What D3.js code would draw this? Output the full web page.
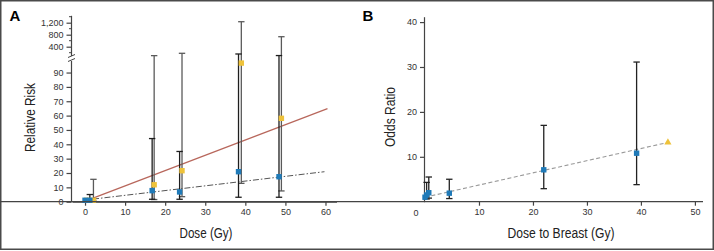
<!DOCTYPE html>
<html>
<head>
<meta charset="utf-8">
<script src="https://cdn.jsdelivr.net/npm/d3@7"></script>
<style>
  body { margin: 0; background: #fff; }
  svg { display: block; font-family: "Liberation Sans", Arial, sans-serif; }
  .tick text { font-size: 9px; fill: #333; }
  .axis path, .axis line { stroke: #444; stroke-width: 1.2; }
  .title { font-family: "Liberation Sans Narrow", "Liberation Sans", sans-serif; font-size: 15.5px; fill: #222; }
</style>
</head>
<body>
<div id="chart"></div>
<script>
// Panel A - relative risk by dose, two series
var doseBlueA = [0, 1.2, 16.75, 23.6, 38.3, 48.4];
var rrBlueA = [1, 1, 7.7, 6.8, 20.9, 17.4];
var loBlueA = [null, 0.6, 1.7, 1.7, 3.1, 3.1];
var hiBlueA = [null, 5, 44, 35, 157, 105];

var doseYellowA = [0.4, 2.1, 17.25, 24.2, 39, 49];
var rrYellowA = [1, 1, 11.8, 21.6, 96.6, 58.1];
var loYellowA = [null, 0.5, 1.5, 3.5, 12.8, 7.5];
var hiYellowA = [null, 15.6, 102, 180, 1233, 733];

// fitted lines (end points)
var fitRedDose = [2, 60.5];
var fitRedRR = [2.5, 64.8];
var fitBlueDose = [2, 59.75];
var fitBlueRR = [1.8, 20.9];

var xTicksA = [0, 10, 20, 30, 40, 50, 60];
var yTicksLowA = [0, 10, 20, 30, 40, 50, 60, 70, 80, 90];
var yTicksHighA = [400, 800, 1200];
var yMinorHighA = [200, 600, 1000, 1400];

// Panel B - odds ratio by dose to breast
var doseB = [0, 0.3, 0.7, 4.5, 22, 39.2];
var orB = [1, 1.5, 2.0, 1.9, 7.1, 10.8];
var loB = [null, 0.6, 0.8, 0.7, 2.9, 3.8];
var hiB = [null, 4.3, 5.5, 5.0, 17.0, 31.1];
var triDoseB = 45;
var triOrB = 13.2;
var fitDoseB = [0, 45];
var fitOrB = [1, 13.2];

var xTicksB = [10, 20, 30, 40, 50];
var yTicksB = [10, 20, 30, 40];

var blue = "#1f7ab8";
var yellow = "#eec23a";

var svg = d3.select("#chart").append("svg")
	.attr("width", 714)
	.attr("height", 251);

svg.append("rect")
	.attr("x", 0.75).attr("y", 0.75)
	.attr("width", 712.5).attr("height", 248.5)
	.attr("fill", "none")
	.attr("stroke", "#4a4a4a")
	.attr("stroke-width", 1.5);

// ---------- Panel A ----------
var xA = d3.scaleLinear().domain([-3.25, 62.75]).range([72, 336.5]);
var yLow = d3.scaleLinear().domain([0, 100]).range([201.7, 58.2]);
var yHigh = d3.scaleLinear().domain([100, 1430]).range([55.7, 15.8]);
function yA(v) {
	return v <= 100 ? yLow(v) : yHigh(v);
}

var gA = svg.append("g");

gA.append("g")
	.attr("class", "axis")
	.attr("transform", "translate(0,201.7)")
	.call(d3.axisBottom(xA).tickValues(xTicksA).tickSize(4).tickPadding(3).tickSizeOuter(0));

gA.append("g")
	.attr("class", "axis")
	.attr("transform", "translate(71.5,0)")
	.call(d3.axisLeft(yLow).tickValues(yTicksLowA).tickSize(5).tickPadding(3).tickSizeOuter(0))
	.select(".domain").attr("d", "M0,61V201.7");

var upperAxis = gA.append("g")
	.attr("class", "axis")
	.attr("transform", "translate(71.5,0)")
	.call(d3.axisLeft(yHigh).tickValues(yTicksHighA).tickFormat(d3.format(",")).tickSize(5).tickPadding(3).tickSizeOuter(0));
upperAxis.select(".domain").attr("d", "M0,15.8V56");

gA.selectAll(".minor")
	.data(yMinorHighA)
	.enter().append("line")
	.attr("x1", 69).attr("x2", 71.5)
	.attr("y1", function(d){ return yHigh(d); })
	.attr("y2", function(d){ return yHigh(d); })
	.attr("stroke", "#444");

// axis break marks
[56, 60].forEach(function(yy){
	gA.append("line")
		.attr("x1", 68).attr("y1", yy + 1.5)
		.attr("x2", 75).attr("y2", yy - 1.5)
		.attr("stroke", "#444")
		.attr("stroke-width", 1);
});

var lineA = d3.line()
	.x(function(d){ return xA(d[0]); })
	.y(function(d){ return yA(d[1]); });

gA.append("path")
	.datum(d3.zip(fitRedDose, fitRedRR))
	.attr("d", lineA)
	.attr("fill", "none")
	.attr("stroke", "#b8675c")
	.attr("stroke-width", 1.3);

gA.append("path")
	.datum(d3.zip(fitBlueDose, fitBlueRR))
	.attr("d", lineA)
	.attr("fill", "none")
	.attr("stroke", "#555")
	.attr("stroke-width", 1)
	.attr("stroke-dasharray", "6,2,1.5,2");

function errorBars(g, xs, los, his, xScale, yFn, color) {
	xs.forEach(function(d, i){
		if (los[i] == null) return;
		var x = xScale(d);
		var y1 = yFn(los[i]), y2 = yFn(his[i]);
		g.append("line").attr("x1", x).attr("x2", x).attr("y1", y1).attr("y2", y2)
			.attr("stroke", color).attr("stroke-width", 1.3);
		[y1, y2].forEach(function(yy){
			g.append("line").attr("x1", x - 3.2).attr("x2", x + 3.2).attr("y1", yy).attr("y2", yy)
				.attr("stroke", color).attr("stroke-width", 1.3);
		});
	});
}

errorBars(gA, doseYellowA, loYellowA, hiYellowA, xA, yA, "#5a5a5a");
errorBars(gA, doseBlueA, loBlueA, hiBlueA, xA, yA, "#1e1e1e");

function squares(g, xs, ys, xScale, yFn, color) {
	g.selectAll(null)
		.data(d3.zip(xs, ys))
		.enter().append("rect")
		.attr("x", function(d){ return xScale(d[0]) - 2.7; })
		.attr("y", function(d){ return yFn(d[1]) - 2.7; })
		.attr("width", 5.4)
		.attr("height", 5.4)
		.attr("fill", color);
}

squares(gA, doseYellowA, rrYellowA, xA, yA, yellow);
squares(gA, doseBlueA, rrBlueA, xA, yA, blue);

gA.append("text").attr("class", "title")
	.attr("x", 206).attr("y", 238)
	.attr("text-anchor", "middle")
	.attr("textLength", 53).attr("lengthAdjust", "spacingAndGlyphs")
	.text("Dose (Gy)");

gA.append("text").attr("class", "title")
	.attr("transform", "translate(35,117.5) rotate(-90)")
	.attr("text-anchor", "middle")
	.attr("textLength", 69).attr("lengthAdjust", "spacingAndGlyphs")
	.text("Relative Risk");

svg.append("text")
	.attr("x", 9.5).attr("y", 20.5)
	.attr("font-size", 15).attr("font-weight", "bold")
	.text("A");

// ---------- Panel B ----------
var xB = d3.scaleLinear().domain([0, 51.5]).range([425, 703]);
var yB = d3.scaleLinear().domain([0, 41.2]).range([201.7, 16.7]);

var gB = svg.append("g");

gB.append("g")
	.attr("class", "axis")
	.attr("transform", "translate(0,201.7)")
	.call(d3.axisBottom(xB).tickValues(xTicksB).tickSize(4).tickPadding(3).tickSizeOuter(0))
	.select(".domain").attr("d", "M-1,0H703");

gB.append("g")
	.attr("class", "axis")
	.attr("transform", "translate(424,0)")
	.call(d3.axisLeft(yB).tickValues(yTicksB).tickSize(4).tickPadding(3).tickSizeOuter(0));

// shared origin label
gB.append("text")
	.attr("x", xB(0) - 9).attr("y", 215.5)
	.attr("text-anchor", "middle")
	.attr("font-size", 9).attr("fill", "#333")
	.text("0");

gB.append("path")
	.datum(d3.zip(fitDoseB, fitOrB))
	.attr("d", d3.line().x(function(d){ return xB(d[0]); }).y(function(d){ return yB(d[1]); }))
	.attr("fill", "none")
	.attr("stroke", "#9a9a9a")
	.attr("stroke-width", 1.1)
	.attr("stroke-dasharray", "4,2.5");

errorBars(gB, doseB, loB, hiB, xB, yB, "#222");

squares(gB, doseB, orB, xB, yB, blue);

gB.append("path")
	.attr("d", d3.symbol(d3.symbolTriangle, 22)())
	.attr("transform", "translate(" + xB(triDoseB) + "," + yB(triOrB) + ")")
	.attr("fill", yellow);

gB.append("text").attr("class", "title")
	.attr("x", 561).attr("y", 238)
	.attr("text-anchor", "middle")
	.attr("textLength", 107).attr("lengthAdjust", "spacingAndGlyphs")
	.text("Dose to Breast (Gy)");

gB.append("text").attr("class", "title")
	.attr("transform", "translate(395,117) rotate(-90)")
	.attr("text-anchor", "middle")
	.attr("textLength", 60).attr("lengthAdjust", "spacingAndGlyphs")
	.text("Odds Ratio");

svg.append("text")
	.attr("x", 362.5).attr("y", 20.5)
	.attr("font-size", 15).attr("font-weight", "bold")
	.text("B");
</script>
</body>
</html>
